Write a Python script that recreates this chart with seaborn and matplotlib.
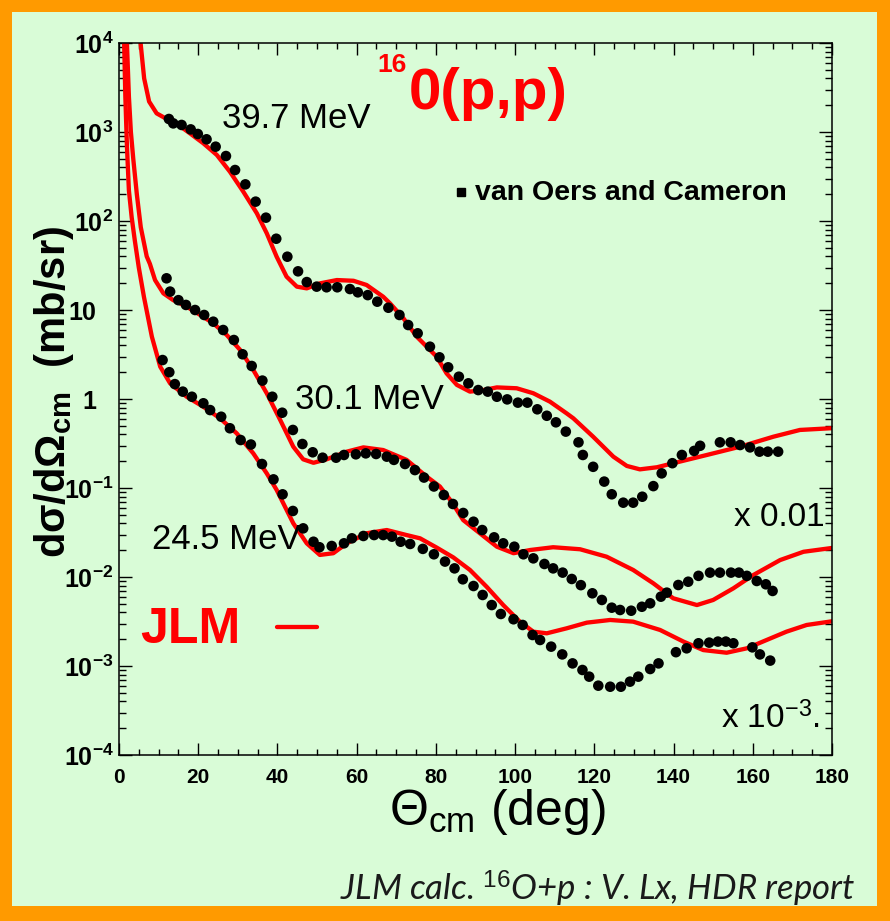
import numpy as np
import pandas as pd
import matplotlib
matplotlib.use("Agg")
import matplotlib.pyplot as plt
import seaborn as sns
from matplotlib.patches import Rectangle
from matplotlib.transforms import ScaledTranslation
from matplotlib.ticker import FixedLocator, LogLocator, FuncFormatter, MultipleLocator, NullFormatter

# ---------------------------------------------------------------------------
# 16O(p,p) elastic scattering: measured points (van Oers and Cameron) and
# JLM folding-model calculations.  Cross sections in mb/sr (unscaled);
# the 30.1 MeV set is drawn x 0.01 and the 24.5 MeV set x 1e-3.
# ---------------------------------------------------------------------------
energies = ["39.7 MeV", "30.1 MeV", "24.5 MeV"]
scales = [1.0, 0.01, 1e-3]

# measured angular distributions (theta_cm in degrees)
theta_397 = [12.6, 13.7, 15.8, 18.1, 19.9, 22.1, 24.4, 27.0, 29.3, 31.9,
             34.5, 37.1, 39.7, 42.5, 45.2, 47.4, 49.9, 52.4, 55.1, 58.3,
             60.3, 62.8, 65.2, 68.0, 70.8, 73.0, 75.4, 78.5, 80.9, 83.1,
             85.8, 88.2, 90.7, 93.1, 95.4, 98.0, 100.7, 103.1, 105.6, 108.0,
             110.3, 112.8, 116.0, 117.1, 119.7, 122.5, 124.4, 127.3, 129.8, 132.1,
             134.9, 137.0, 139.7, 142.1, 145.2, 146.7, 151.7, 154.4, 156.8, 159.3,
             161.7, 163.8, 166.4]
xs_397 = [1400, 1250, 1200, 1070, 950, 828, 684, 537, 374, 258,
          165, 109, 63.2, 39.7, 27.2, 20.6, 18.3, 18.0, 18.0, 17.2,
          15.8, 14.7, 12.4, 10.6, 8.79, 6.78, 5.47, 3.87, 2.94, 2.27,
          1.78, 1.50, 1.26, 1.21, 1.06, 0.99, 0.91, 0.91, 0.766, 0.648,
          0.547, 0.430, 0.326, 0.235, 0.173, 0.118, 0.085, 0.0684, 0.0684, 0.0798,
          0.105, 0.146, 0.190, 0.235, 0.261, 0.298, 0.326, 0.326, 0.304, 0.286,
          0.256, 0.256, 0.256]

theta_301 = [12.0, 12.9, 15.0, 16.9, 19.2, 21.5, 23.8, 26.3, 29.0, 31.2,
             33.5, 36.2, 38.7, 41.2, 43.9, 46.3, 48.9, 51.4, 54.8, 56.8,
             59.8, 62.3, 64.9, 67.6, 69.4, 72.2, 74.7, 77.0, 79.5, 82.0,
             84.3, 86.9, 89.5, 91.7, 94.7, 97.0, 99.8, 102.1, 104.6, 107.4,
             109.6, 112.0, 114.3, 116.6, 119.5, 121.9, 124.4, 126.5, 129.3, 132.0,
             134.1, 136.8, 138.3, 141.2, 143.7, 146.3, 149.2, 151.7, 154.5, 156.5,
             158.5, 161.0, 163.3, 165.0]
xs_301 = [2270, 1610, 1290, 1140, 1000, 879, 739, 596, 460, 318,
          235, 161, 106, 70.1, 44.9, 31.2, 25.2, 21.9, 21.9, 23.5,
          23.9, 24.5, 24.1, 22.5, 20.7, 18.6, 15.9, 13.1, 10.4, 8.34,
          6.61, 5.24, 4.18, 3.37, 2.79, 2.39, 2.19, 1.80, 1.62, 1.40,
          1.25, 1.12, 0.95, 0.81, 0.656, 0.552, 0.452, 0.426, 0.418, 0.463,
          0.506, 0.601, 0.667, 0.813, 0.885, 1.03, 1.12, 1.12, 1.12, 1.12,
          1.03, 0.902, 0.828, 0.697]

theta_245 = [11.0, 12.7, 14.1, 16.1, 18.4, 21.3, 23.0, 25.8, 28.0, 30.7,
             33.3, 36.1, 39.0, 41.3, 43.9, 46.5, 49.1, 50.6, 53.7, 56.8,
             58.8, 61.7, 64.4, 66.7, 68.9, 71.1, 73.5, 76.7, 79.5, 82.3,
             84.7, 86.8, 89.5, 91.8, 94.1, 96.4, 99.6, 101.9, 104.4, 106.3,
             109.1, 111.9, 114.5, 117.0, 118.7, 121.0, 124.0, 126.7, 129.0, 131.1,
             134.1, 136.2, 140.6, 143.3, 146.3, 149.0, 151.2, 153.2, 155.1, 159.9,
             161.8, 164.4]
xs_245 = [2740, 2000, 1470, 1210, 1060, 895, 751, 632, 469, 346,
          308, 186, 125, 84.9, 55.2, 35.2, 24.9, 21.6, 22.3, 23.9,
          27.2, 28.9, 29.6, 29.6, 28.4, 24.9, 23.5, 20.7, 18.0, 14.9,
          12.5, 9.42, 7.92, 6.28, 4.84, 3.84, 3.35, 2.89, 2.23, 1.96,
          1.65, 1.35, 1.07, 0.902, 0.759, 0.601, 0.585, 0.585, 0.667, 0.759,
          0.925, 1.07, 1.43, 1.58, 1.80, 1.83, 1.88, 1.88, 1.80, 1.62,
          1.35, 1.15]

# JLM calculations
jlm_theta_397 = [4.8, 5.4, 6.35, 7.6, 9.5, 11.8, 15.0, 17.9, 21.3, 24.7,
                 28.0, 31.4, 34.8, 37.3, 39.8, 42.3, 44.9, 47.4, 50.7, 55.0,
                 59.2, 62.5, 66.7, 68.4, 71.8, 75.2, 80.2, 82.7, 85.3, 88.6,
                 92.0, 95.4, 100.4, 104.6, 108.8, 113.0, 114.7, 119.7, 124.8, 128.2,
                 131.5, 135.8, 141.6, 148.4, 156.8, 165.2, 171.9, 180.0]
jlm_xs_397 = [40000, 10500, 4000, 2200, 1620, 1420, 1200, 967, 746, 552,
              358, 213, 122, 72.8, 39.7, 23.7, 18.3, 17.5, 19.9, 21.7,
              21.3, 19.1, 14.1, 11.9, 8.07, 5.0, 2.99, 1.94, 1.44, 1.21,
              1.26, 1.35, 1.32, 1.16, 0.933, 0.690, 0.607, 0.377, 0.225, 0.177,
              0.162, 0.171, 0.198, 0.235, 0.291, 0.377, 0.449, 0.47]

jlm_theta_301 = [1.6, 2.0, 2.5, 3.0, 3.6, 4.5, 5.5, 7.0, 7.8, 9.1,
                 11.2, 13.7, 17.1, 20.5, 23.8, 27.2, 30.6, 33.9, 37.3, 40.7,
                 44.0, 46.5, 49.1, 52.4, 57.5, 61.7, 66.7, 72.6, 77.7, 81.0,
                 84.0, 86.9, 91.1, 95.4, 99.6, 103.8, 109.6, 116.4, 123.1, 129.8,
                 134.9, 139.9, 145.9, 150.0, 155.1, 160.1, 166.9, 172.8, 180.0]
jlm_xs_301 = [5.0e6, 1.0e6, 2.5e5, 1.0e5, 5.0e4, 2.0e4, 8500, 4000, 3300, 2170,
              1540, 1290, 1090, 879, 709, 524, 355, 212, 116, 58.1,
              29.1, 21.0, 19.2, 21.0, 25.6, 28.6, 26.7, 20.7, 13.4, 10.4,
              6.97, 4.36, 3.10, 2.19, 1.85, 2.01, 2.16, 2.05, 1.69, 1.20,
              0.849, 0.577, 0.484, 0.552, 0.746, 1.05, 1.55, 1.92, 2.12]

jlm_theta_245 = [1.0, 1.3, 1.6, 2.0, 2.5, 3.2, 4.0, 5.0, 6.3, 8.3,
                 10.4, 12.9, 17.1, 21.3, 25.5, 29.7, 33.9, 37.3, 39.8, 44.0,
                 47.4, 50.7, 54.1, 57.5, 62.5, 67.6, 72.6, 76.0, 80.2, 84.4,
                 88.6, 92.8, 97.0, 101.2, 104.6, 108.0, 113.0, 118.1, 124.0, 129.8,
                 136.6, 142.5, 147.5, 153.4, 158.5, 163.5, 168.5, 173.6, 180.0]
jlm_xs_245 = [6.0e7, 1.0e7, 2.5e6, 7.0e5, 2.2e5, 1.1e5, 6.0e4, 3.0e4, 1.4e4, 5010,
              2310, 1500, 1060, 818, 607, 412, 245, 146, 95.1, 40.1,
              23.9, 17.7, 18.5, 23.9, 31.0, 33.7, 29.6, 27.2, 21.4, 16.6,
              12.0, 7.78, 4.84, 3.15, 2.43, 2.33, 2.65, 3.07, 3.29, 3.15,
              2.54, 1.88, 1.51, 1.41, 1.58, 1.96, 2.43, 2.89, 3.18]

xticks = list(range(0, 181, 20))
ydecades = list(range(-4, 5))

# ---------------------------------------------------------------------------
meas = pd.concat([
    pd.DataFrame({"theta": t, "xs": np.asarray(v) * s, "E": e})
    for t, v, s, e in zip([theta_397, theta_301, theta_245],
                          [xs_397, xs_301, xs_245], scales, energies)
], ignore_index=True)
calc = pd.concat([
    pd.DataFrame({"theta": t, "xs": np.asarray(v) * s, "E": e})
    for t, v, s, e in zip([jlm_theta_397, jlm_theta_301, jlm_theta_245],
                          [jlm_xs_397, jlm_xs_301, jlm_xs_245], scales, energies)
], ignore_index=True)

sns.set_theme(style="ticks")
plt.rcParams["font.family"] = ["Liberation Sans", "DejaVu Sans"]
plt.rcParams["mathtext.fontset"] = "custom"
plt.rcParams["mathtext.rm"] = "Liberation Sans"
plt.rcParams["mathtext.bf"] = "Liberation Sans:bold"
plt.rcParams["mathtext.it"] = "Lato:italic"
plt.rcParams["mathtext.sf"] = "Liberation Sans"
for key in ("text.color", "axes.labelcolor", "xtick.color", "ytick.color",
            "axes.edgecolor"):
    plt.rcParams[key] = "black"

GREEN = "#d9fcd7"
ORANGE = "#ff9a00"
RED = "#ff0000"
W, H = 890, 921

fig = plt.figure(figsize=(W / 100, H / 100), dpi=100, facecolor=ORANGE)
fig.patches.append(Rectangle((12 / W, 1 - 906 / H), (877 - 12) / W, (906 - 12) / H,
                             transform=fig.transFigure, facecolor=GREEN,
                             edgecolor="none", zorder=-10))

ax = fig.add_axes([119 / W, 1 - 755 / H, 713 / W, 712 / H])
ax.set_facecolor(GREEN)

sns.lineplot(data=calc, x="theta", y="xs", units="E", estimator=None, sort=False,
             color=RED, lw=3.1, ax=ax, zorder=2, legend=False)
sns.scatterplot(data=meas, x="theta", y="xs", color="black", s=58,
                edgecolor="none", ax=ax, zorder=3, legend=False)

ax.set_yscale("log")
ax.set_xlim(0, 180)
ax.set_ylim(1e-4, 1e4)

ax.set_xticks(xticks)
ax.set_xticklabels([str(v) for v in xticks], fontweight="bold")
ax.xaxis.set_minor_locator(MultipleLocator(5))
ax.yaxis.set_major_locator(FixedLocator([10.0 ** d for d in ydecades]))
ax.yaxis.set_minor_locator(LogLocator(base=10, subs=np.arange(2, 10), numticks=30))
ax.yaxis.set_minor_formatter(NullFormatter())


def decade_label(v, pos):
    e = int(round(np.log10(v)))
    if e == 0:
        return r"$\mathbf{1}$"
    if e == 1:
        return r"$\mathbf{10}$"
    return r"$\mathbf{10^{%d}}$" % e


ax.yaxis.set_major_formatter(FuncFormatter(decade_label))

ax.tick_params(which="both", direction="in", top=True, right=True,
               color="black", width=1.0)
ax.tick_params(axis="x", which="major", length=8.5, labelsize=15, pad=9)
ax.tick_params(axis="x", which="minor", length=4.3)
ax.tick_params(axis="y", which="major", length=9.5, labelsize=18, pad=4)
ax.tick_params(axis="y", which="minor", length=5)

# labels without an exponent sit a little further from the axis
shift = ScaledTranslation(-12 / 72, 0, fig.dpi_scale_trans)
for tick, d in zip(ax.yaxis.get_major_ticks(), ydecades):
    if d in (0, 1):
        tick.label1.set_transform(tick.label1.get_transform() + shift)

for sp in ax.spines.values():
    sp.set_visible(True)
    sp.set_color("black")
    sp.set_linewidth(1.1)

ax.set_xlabel(r"Θ$_{\mathregular{cm}}$ (deg)", fontsize=36)
ax.xaxis.set_label_coords(0.53, -0.045)
ax.set_ylabel(r"dσ/dΩ$_{\mathbf{cm}}$  (mb/sr)", fontsize=30, fontweight="bold")
ax.yaxis.set_label_coords(-0.061, 0.51)

# annotations
tr = ax.transAxes
ax.text(0.1445, 0.894, energies[0], transform=tr, fontsize=25, va="center", ha="left")
ax.text(0.2468, 0.4986, energies[1], transform=tr, fontsize=25, va="center", ha="left")
ax.text(0.0463, 0.302, energies[2], transform=tr, fontsize=25, va="center", ha="left")
ax.text(0.990, 0.334, "x 0.01", transform=tr, fontsize=24, va="center", ha="right")
ax.text(0.983, 0.052, r"x 10$^{-3}$.", transform=tr, fontsize=24, va="center", ha="right")

ax.text(0.363, 0.969, "16", transform=tr, fontsize=19, fontweight="bold",
        color=RED, va="center", ha="left")
ax.text(0.407, 0.928, "0(p,p)", transform=tr, fontsize=42, fontweight="bold",
        color=RED, va="center", ha="left")

# legend entries
ax.plot([0.480], [0.791], transform=tr, marker="s", ms=6, color="black",
        ls="none", clip_on=False)
ax.text(0.499, 0.789, "van Oers and Cameron", transform=tr, fontsize=20.5,
        fontweight="bold", va="center", ha="left")
ax.text(0.0295, 0.176, "JLM", transform=tr, fontsize=36, fontweight="bold",
        color=RED, va="center", ha="left")
ax.plot([0.2216, 0.2777], [0.1798, 0.1798], transform=tr, color=RED, lw=3.1)

fig.text(0.961, 0.036, r"JLM calc. $^{\mathit{16}}$O+p : V. Lx, HDR report",
         ha="right", va="center", fontsize=25, fontstyle="italic",
         family=["Lato", "DejaVu Sans"], color="#1a1a1a")

fig.savefig("out.png", dpi=100, facecolor=fig.get_facecolor())
